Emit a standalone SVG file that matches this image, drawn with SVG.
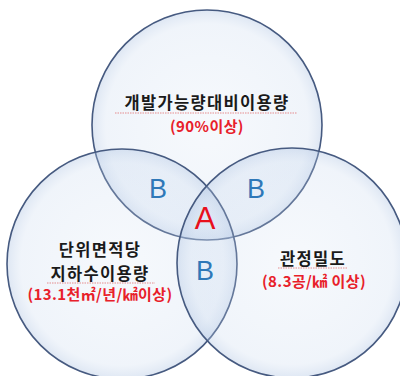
<svg xmlns="http://www.w3.org/2000/svg" width="400" height="376" viewBox="0 0 400 376">
<style>
.c{fill:url(#g);stroke:#465a80;stroke-width:1.6}
.k{font-family:"Noto Sans CJK KR","Noto Sans",sans-serif;font-weight:bold;font-size:16.5px;fill:#1a1a1a;text-anchor:middle;letter-spacing:1.3px}
.r{font-family:"Noto Sans CJK KR","Noto Sans",sans-serif;font-weight:bold;font-size:15px;fill:#e8202a;text-anchor:middle;letter-spacing:0.4px}
.b{font-family:"Liberation Sans","Noto Sans",sans-serif;font-size:27px;fill:#2f78b8;text-anchor:middle}
.a{font-family:"Liberation Sans","Noto Sans",sans-serif;font-size:31px;fill:#e8101c;text-anchor:middle}
.w{fill:none;stroke:#e06060;stroke-width:0.7;stroke-dasharray:1.5 1}
</style>
<defs>
<radialGradient id="g" cx="50%" cy="50%" r="50%">
<stop offset="0" stop-color="#d2e0f2" stop-opacity="0.2"/>
<stop offset="0.88" stop-color="#c2d4ec" stop-opacity="0.25"/>
<stop offset="1" stop-color="#a8bfe0" stop-opacity="0.38"/>
</radialGradient>
</defs>
<rect width="400" height="376" fill="#ffffff"/>
<g id="circle-top"><circle class="c" cx="207" cy="125" r="115"/></g>
<g id="circle-left"><circle class="c" cx="122" cy="264" r="115"/></g>
<g id="circle-right"><circle class="c" cx="292" cy="263" r="115"/></g>
<g id="label-top">
<text class="k" x="207" y="109">개발가능량대비이용량</text>
<path class="w" d="M115 113 L297 113"/>
<text class="r" x="207" y="132">(90%이상)</text>
</g>
<g id="label-left">
<text class="k" x="100" y="256">단위면적당</text>
<text class="k" x="100" y="280">지하수이용량</text>
<path class="w" d="M47 283 L155 283"/>
<text class="r" x="100" y="300">(13.1천㎡/년/㎢이상)</text>
</g>
<g id="label-right">
<text class="k" x="313" y="265">관정밀도</text>
<path class="w" d="M278 268 L348 268"/>
<text class="r" x="314" y="287">(8.3공/㎢ 이상)</text>
</g>
<g id="regions">
<text class="b" x="158" y="198">B</text>
<text class="b" x="256" y="198">B</text>
<text class="b" x="205" y="280">B</text>
<text class="a" x="205" y="229">A</text>
</g>
</svg>
